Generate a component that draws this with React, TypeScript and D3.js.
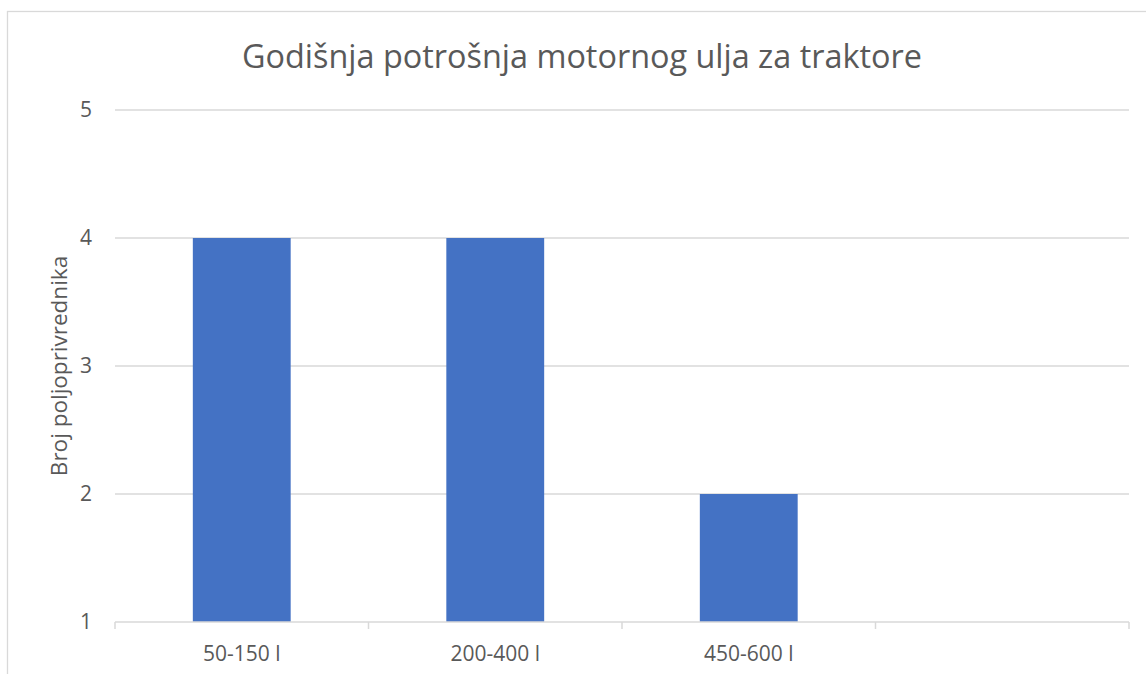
import React, { useEffect, useRef } from 'react'
import * as d3 from 'd3'

const title = 'Godišnja potrošnja motornog ulja za traktore'
const yTitle = 'Broj poljoprivrednika'
const categories = ['50-150 l', '200-400 l', '450-600 l', '']
const values: (number | null)[] = [4, 4, 2, null]
const yTicks = [1, 2, 3, 4, 5]

const width = 1146
const height = 674
const margin = { left: 115, right: 17, top: 110, bottom: 52 }
const font = '"Open Sans", sans-serif'
const textColor = '#595959'
const gridColor = '#d9d9d9'

export default function App() {
    const ref = useRef<SVGSVGElement>(null)

    useEffect(() => {
        const svg = d3.select(ref.current)
        svg.selectAll('*').remove()

        const x = d3.scaleBand()
            .domain(categories)
            .range([margin.left, width - margin.right])
            .paddingInner(0.614)
            .paddingOuter(0.307)

        const y = d3.scaleLinear()
            .domain([1, 5])
            .range([height - margin.bottom, margin.top])

        // chart frame
        svg.append('rect')
            .attr('x', 7.5).attr('y', 11.5)
            .attr('width', width + 20).attr('height', height + 20)
            .attr('fill', 'white')
            .attr('stroke', gridColor)
            .attr('stroke-width', 1.3)

        svg.append('text')
            .attr('x', 582).attr('y', 68)
            .attr('text-anchor', 'middle')
            .attr('fill', textColor)
            .style('font-family', font)
            .style('font-size', '32.4px')
            .text(title)

        // grid
        svg.append('g')
            .selectAll('line')
            .data(yTicks.filter(d => d > 1))
            .join('line')
            .attr('x1', margin.left).attr('x2', width - margin.right)
            .attr('y1', d => y(d)).attr('y2', d => y(d))
            .attr('stroke', gridColor)
            .attr('stroke-width', 1.3)

        svg.append('g')
            .selectAll('text')
            .data(yTicks)
            .join('text')
            .attr('x', 92)
            .attr('y', d => y(d))
            .attr('dy', '0.35em')
            .attr('text-anchor', 'end')
            .attr('fill', textColor)
            .style('font-family', font)
            .style('font-size', '21px')
            .text(d => d)

        svg.append('text')
            .attr('transform', `translate(67,${(y(1) + y(5)) / 2}) rotate(-90)`)
            .attr('text-anchor', 'middle')
            .attr('fill', textColor)
            .style('font-family', font)
            .style('font-size', '22.5px')
            .text(yTitle)

        svg.append('g')
            .selectAll('rect')
            .data(categories.map((c, i) => ({ c, v: values[i] })).filter(d => d.v != null))
            .join('rect')
            .attr('x', d => x(d.c)!)
            .attr('width', x.bandwidth())
            .attr('y', d => y(d.v!))
            .attr('height', d => y(1) - y(d.v!))
            .attr('fill', '#4472c4')

        // x axis
        const axis = svg.append('g').attr('transform', `translate(0,${y(1)})`)
        axis.append('line')
            .attr('x1', margin.left).attr('x2', width - margin.right)
            .attr('stroke', gridColor).attr('stroke-width', 1.5)
        const step = x.step()
        axis.selectAll('.tick')
            .data(d3.range(categories.length + 1))
            .join('line')
            .attr('x1', i => margin.left + i * step).attr('x2', i => margin.left + i * step)
            .attr('y1', 0).attr('y2', 7)
            .attr('stroke', gridColor).attr('stroke-width', 1.5)
        axis.selectAll('.lbl')
            .data(categories)
            .join('text')
            .attr('x', d => x(d)! + x.bandwidth() / 2)
            .attr('y', 39)
            .attr('text-anchor', 'middle')
            .attr('fill', textColor)
            .style('font-family', font)
            .style('font-size', '21px')
            .text(d => d)
    }, [])

    return (
        <svg ref={ref} width={width} height={height}
            style={{ position: 'absolute', left: 0, top: 0, background: 'white' }} />
    )
}
